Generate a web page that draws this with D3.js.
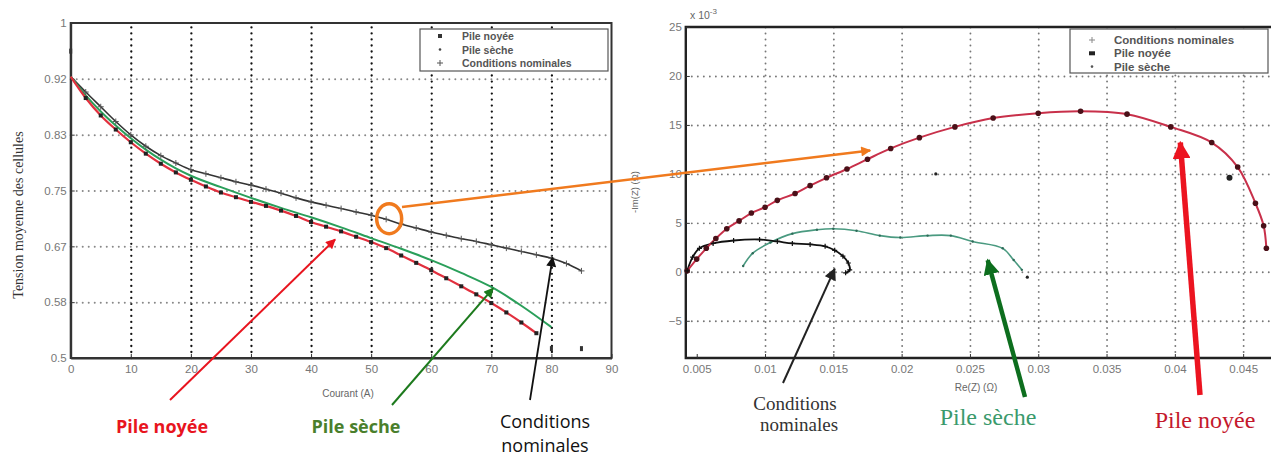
<!DOCTYPE html>
<html><head><meta charset="utf-8">
<script src="https://cdn.jsdelivr.net/npm/d3@7"></script>
<style>body{margin:0;background:#fff}svg{display:block}</style>
</head><body>
<svg id="c" width="1271" height="459"></svg>
<script>
// ===== Left chart data (Courant A / Tension V) =====
const currentTicks = [0,10,20,30,40,50,60,70,80,90];
const voltageTicks = [0.5,0.58333,0.66667,0.75,0.83333,0.91667,1];
const voltageTickLabels = ["0.5","0.58","0.67","0.75","0.83","0.92","1"];
const floodI = [0,2.5,5,7.5,10,12.5,15,17.5,20,22.5,25,27.5,30,32.5,35,37.5,40,42.5,45,47.5,50,52.5,55,57.5,60,62.5,65,67.5,70,72.5,75,77.5];
const floodV = [0.920,0.888,0.862,0.841,0.822,0.805,0.790,0.777,0.766,0.756,0.747,0.740,0.733,0.727,0.720,0.712,0.703,0.696,0.689,0.681,0.673,0.664,0.653,0.642,0.631,0.619,0.607,0.595,0.582,0.568,0.553,0.537];
const dryI = [0,2.5,5,7.5,10,12.5,15,17.5,20,25,30,35,40,45,50,55,60,65,70,75,80];
const dryV = [0.920,0.892,0.868,0.847,0.828,0.811,0.796,0.783,0.772,0.755,0.739,0.724,0.710,0.695,0.679,0.663,0.646,0.627,0.606,0.578,0.546];
const nomI = [0,2.5,5,7.5,10,12.5,15,17.5,20,22.5,25,27.5,30,32.5,35,37.5,40,42.5,45,47.5,50,52.5,55,57.5,60,62.5,65,67.5,70,72.5,75,77.5,80,82.5,85];
const nomV = [0.920,0.897,0.875,0.853,0.833,0.816,0.802,0.791,0.781,0.775,0.769,0.763,0.758,0.752,0.746,0.739,0.733,0.728,0.723,0.718,0.713,0.707,0.700,0.694,0.688,0.683,0.678,0.674,0.669,0.664,0.659,0.654,0.649,0.641,0.630];
const strayI = [0,80,85];
const strayV = [0.958,0.514,0.514];
const leftLegend = ["Pile noyée","Pile sèche","Conditions nominales"];

// ===== Right chart data (Re(Z) Ω / -Im(Z) ×1e-3 Ω) =====
const reTicks = [0.005,0.01,0.015,0.02,0.025,0.03,0.035,0.04,0.045];
const imTicks = [-5,0,5,10,15,20,25];
const floodRe = [0.0043,0.0050,0.0057,0.0064,0.0072,0.0081,0.0090,0.0100,0.0109,0.0122,0.0133,0.0145,0.0160,0.0175,0.0192,0.0213,0.0239,0.0267,0.0300,0.0331,0.0365,0.0397,0.0427,0.0446,0.0459,0.0465,0.0467];
const floodIm = [0.1,1.3,2.4,3.4,4.4,5.2,6.0,6.6,7.3,8.0,8.8,9.6,10.5,11.5,12.6,13.7,14.8,15.7,16.2,16.4,16.1,14.8,13.2,10.7,7.0,4.7,2.4];
const dryRe = [0.0084,0.0091,0.0104,0.0120,0.0138,0.0150,0.0167,0.0184,0.0199,0.0219,0.0236,0.0252,0.0274,0.0282,0.0288];
const dryIm = [0.6,1.9,3.0,3.9,4.3,4.4,4.2,3.7,3.5,3.7,3.7,3.1,2.4,1.2,0.2];
const nomRe = [0.0043,0.0047,0.0052,0.0062,0.0077,0.0096,0.0109,0.0120,0.0133,0.0144,0.0151,0.0157,0.0161,0.0162,0.0159];
const nomIm = [0.1,1.5,2.4,2.9,3.2,3.3,3.1,2.9,2.8,2.6,2.2,1.6,0.9,0.2,-0.1];
const strayRe = [0.0440,0.0225,0.0292];
const strayIm = [9.6,10.0,-0.55];
const rightLegend = ["Conditions nominales","Pile noyée","Pile sèche"];

// ===== drawing =====
const svg = d3.select("#c");
const zip = (a,b) => a.map((v,i)=>[v,b[i]]);
const defs = svg.append("defs");
function head(id, color, w, l){
  defs.append("marker").attr("id",id).attr("viewBox","0 0 10 10").attr("refX",9).attr("refY",5)
    .attr("markerUnits","userSpaceOnUse").attr("markerWidth",l).attr("markerHeight",w).attr("orient","auto")
    .append("path").attr("d","M0,0L10,5L0,10z").attr("fill",color);
}
head("hRed","#e8141e",10,12); head("hGreen","#1d7a1d",10,12); head("hBlack","#111",10,12);
head("hOrange","#f07a1e",10,13); head("hGreenB","#0d6e1e",16,16); head("hRedB","#ec1420",18,18); head("hBlackR","#222",12,13);

function dots(sel){ sel.attr("stroke-dasharray","0.01,6").attr("stroke-linecap","round"); }

// ---------- LEFT ----------
const xL = d3.scaleLinear().domain([0,90]).range([70.7,611.5]);
const yL = d3.scaleLinear().domain([0.5,1]).range([358,23]);
const L = svg.append("g");
// grid
const gv = L.append("g").attr("transform",`translate(0,${yL(0.5)})`)
  .call(d3.axisBottom(xL).tickValues(currentTicks.slice(1,-1)).tickSize(-(yL(0.5)-yL(1))).tickFormat(""));
gv.select(".domain").remove();
gv.selectAll("line").attr("stroke","#111").attr("stroke-width",2.3).call(dots);
const gh = L.append("g").attr("transform",`translate(${xL(0)},0)`)
  .call(d3.axisLeft(yL).tickValues(voltageTicks.slice(1,-1)).tickSize(-(xL(90)-xL(0))).tickFormat(""));
gh.select(".domain").remove();
gh.selectAll("line").attr("stroke","#888").attr("stroke-width",2).call(dots);
// frame
L.append("rect").attr("x",xL(0)).attr("y",yL(1)).attr("width",xL(90)-xL(0)).attr("height",yL(0.5)-yL(1))
  .attr("fill","none").attr("stroke","#333").attr("stroke-width",2);
// axes
const axB = L.append("g").attr("transform",`translate(0,${yL(0.5)})`)
  .call(d3.axisBottom(xL).tickValues(currentTicks).tickSizeInner(-4).tickSizeOuter(0).tickPadding(7));
const axLft = L.append("g").attr("transform",`translate(${xL(0)},0)`)
  .call(d3.axisLeft(yL).tickValues(voltageTicks).tickFormat((d,i)=>voltageTickLabels[i]).tickSizeInner(-4).tickSizeOuter(0).tickPadding(4));
[axB,axLft].forEach(a=>{a.select(".domain").attr("stroke","#333").attr("stroke-width",2);
  a.selectAll("line").attr("stroke","#333");
  a.selectAll("text").attr("font-family","Liberation Sans, Arial").attr("font-size",11.5).attr("fill","#777");});
L.append("text").attr("x",348).attr("y",397).attr("text-anchor","middle").attr("font-family","Liberation Sans, Arial")
  .attr("font-size",10).attr("fill","#666").text("Courant (A)");
L.append("text").attr("transform","translate(23,215) rotate(-90)").attr("text-anchor","middle")
  .attr("font-family","Liberation Serif, serif").attr("font-size",14).attr("fill","#333").text("Tension moyenne des cellules");
// lines
const lineL = d3.line().x(d=>xL(d[0])).y(d=>yL(d[1])).curve(d3.curveMonotoneX);
L.append("path").datum(zip(nomI,nomV)).attr("d",lineL).attr("fill","none").attr("stroke","#333").attr("stroke-width",1.6);
L.append("path").datum(zip(dryI,dryV)).attr("d",lineL).attr("fill","none").attr("stroke","#2a9f5a").attr("stroke-width",2);
L.append("path").datum(zip(floodI,floodV)).attr("d",lineL).attr("fill","none").attr("stroke","#e2303e").attr("stroke-width",2.2);
L.selectAll(".fm").data(zip(floodI,floodV).slice(1)).join("rect").attr("x",d=>xL(d[0])-2).attr("y",d=>yL(d[1])-2)
  .attr("width",4).attr("height",4).attr("fill","#222");
L.selectAll(".nm").data(zip(nomI,nomV).slice(1)).join("path")
  .attr("d",d=>`M${xL(d[0])-3},${yL(d[1])}h6M${xL(d[0])},${yL(d[1])-3}v6`).attr("stroke","#555").attr("stroke-width",1);
L.selectAll(".st").data(zip(strayI,strayV)).join("rect").attr("x",d=>xL(d[0])-1.5).attr("y",d=>yL(d[1])-2.5)
  .attr("width",3).attr("height",5).attr("fill","#333");
// legend
L.append("rect").attr("x",420).attr("y",29).attr("width",188).attr("height",42).attr("fill","#fff").attr("stroke","#555").attr("stroke-width",1.2);
leftLegend.forEach((t,i)=>{
  const y = 36 + i*13.5;
  L.append("text").attr("x",462).attr("y",y+4).attr("font-family","Liberation Sans, Arial").attr("font-weight","bold")
    .attr("font-size",10.5).attr("fill","#555").text(t);
  if(i===0) L.append("rect").attr("x",438).attr("y",y-2).attr("width",4).attr("height",4).attr("fill","#333");
  if(i===1) L.append("circle").attr("cx",440).attr("cy",y).attr("r",1.3).attr("fill","#444");
  if(i===2) L.append("path").attr("d",`M437,${y}h6M440,${y-3}v6`).attr("stroke","#555");
});

// ---------- RIGHT ----------
const xR = d3.scaleLinear().domain([0.0042,0.0475]).range([685.8,1277.3]);
const yR = d3.scaleLinear().domain([-8.8,25]).range([358,27]);
const R = svg.append("g");
const rv = R.append("g").attr("transform",`translate(0,${yR(-8.8)})`)
  .call(d3.axisBottom(xR).tickValues(reTicks.slice(1)).tickSize(-(yR(-8.8)-yR(25))).tickFormat(""));
rv.select(".domain").remove();
rv.selectAll("line").attr("stroke","#777").attr("stroke-width",1.9).call(dots);
const rh = R.append("g").attr("transform",`translate(${xR(0.0042)},0)`)
  .call(d3.axisLeft(yR).tickValues(imTicks.slice(0,-1)).tickSize(-(1271-xR(0.0042))).tickFormat(""));
rh.select(".domain").remove();
rh.selectAll("line").attr("stroke","#777").attr("stroke-width",1.9).call(dots);
R.append("path").attr("d",`M1271,${yR(25)}H${xR(0.0042)}V${yR(-8.8)}H1271`).attr("fill","none").attr("stroke","#222").attr("stroke-width",2.4);
const rb = R.append("g").attr("transform",`translate(0,${yR(-8.8)})`)
  .call(d3.axisBottom(xR).tickValues(reTicks).tickFormat(d3.format("~g")).tickSizeInner(-4).tickSizeOuter(0).tickPadding(7));
const rl = R.append("g").attr("transform",`translate(${xR(0.0042)},0)`)
  .call(d3.axisLeft(yR).tickValues(imTicks).tickSizeInner(-4).tickSizeOuter(0).tickPadding(4));
[rb,rl].forEach(a=>{a.select(".domain").remove(); a.selectAll("line").attr("stroke","#333");
  a.selectAll("text").attr("font-family","Liberation Sans, Arial").attr("font-size",11.5).attr("fill","#777");});
R.append("text").attr("x",690).attr("y",19).attr("font-family","Liberation Sans, Arial").attr("font-size",10.5).attr("fill","#666")
  .html('x 10<tspan dy="-5" font-size="8">-3</tspan>');
R.append("text").attr("x",976).attr("y",391).attr("text-anchor","middle").attr("font-family","Liberation Sans, Arial")
  .attr("font-size",10).attr("fill","#666").text("Re(Z) (Ω)");
R.append("text").attr("transform","translate(638,192) rotate(-90)").attr("text-anchor","middle")
  .attr("font-family","Liberation Sans, Arial").attr("font-size",9.5).attr("fill","#666").text("-Im(Z) (Ω)");
const lineR = d3.line().x(d=>xR(d[0])).y(d=>yR(d[1])).curve(d3.curveCatmullRom);
R.append("path").datum(zip(dryRe,dryIm)).attr("d",lineR).attr("fill","none").attr("stroke","#4a9a80").attr("stroke-width",1.6);
R.append("path").datum(zip(nomRe,nomIm)).attr("d",lineR).attr("fill","none").attr("stroke","#111").attr("stroke-width",1.8);
R.append("path").datum(zip(floodRe,floodIm)).attr("d",lineR).attr("fill","none").attr("stroke","#c8304a").attr("stroke-width",2);
R.selectAll(".rf").data(zip(floodRe,floodIm)).join("circle").attr("cx",d=>xR(d[0])).attr("cy",d=>yR(d[1])).attr("r",2.8).attr("fill","#4a1018");
R.selectAll(".rn").data(zip(nomRe,nomIm)).join("path")
  .attr("d",d=>`M${xR(d[0])-2.5},${yR(d[1])}h5M${xR(d[0])},${yR(d[1])-2.5}v5`).attr("stroke","#111").attr("stroke-width",1.2);
R.selectAll(".rd").data(zip(dryRe,dryIm)).join("circle").attr("cx",d=>xR(d[0])).attr("cy",d=>yR(d[1])).attr("r",1.2).attr("fill","#2e6a58");
R.selectAll(".rs").data(zip(strayRe,strayIm)).join("circle").attr("cx",d=>xR(d[0])).attr("cy",d=>yR(d[1])).attr("r",(d,i)=>i===0?3:1.6).attr("fill","#222");
R.append("circle").attr("cx",xR(floodRe[16])+0).attr("cy",yR(floodIm[16])).attr("r",0);
// legend
R.append("rect").attr("x",1070).attr("y",29).attr("width",198).attr("height",44).attr("fill","#fff").attr("stroke","#555").attr("stroke-width",1.2);
rightLegend.forEach((t,i)=>{
  const y = 40 + i*13.3;
  R.append("text").attr("x",1114).attr("y",y+4).attr("font-family","Liberation Sans, Arial").attr("font-weight","bold")
    .attr("font-size",11.5).attr("fill","#555").text(t);
  if(i===0) R.append("path").attr("d",`M1089,${y}h6M1092,${y-3}v6`).attr("stroke","#888");
  if(i===1) R.append("rect").attr("x",1089).attr("y",y-2).attr("width",6).attr("height",4).attr("fill","#222");
  if(i===2) R.append("circle").attr("cx",1092).attr("cy",y).attr("r",1.3).attr("fill","#555");
});

// ---------- Annotations ----------
const A = svg.append("g");
function arrow(x1,y1,x2,y2,color,w,mk){
  A.append("line").attr("x1",x1).attr("y1",y1).attr("x2",x2).attr("y2",y2).attr("stroke",color).attr("stroke-width",w).attr("marker-end",`url(#${mk})`);
}
// orange link
A.append("ellipse").attr("cx",xL(53)).attr("cy",yL(0.708)).attr("rx",12.5).attr("ry",15).attr("fill","none").attr("stroke","#f07a1e").attr("stroke-width",3.5);
arrow(402,207,xR(0.0177),yR(12.4),"#f07a1e",2.5,"hOrange");
// left arrows
arrow(170,400,xL(44),yL(0.677),"#e8141e",2,"hRed");
arrow(392,405,xL(70.3),yL(0.604),"#1d7a1d",2,"hGreen");
arrow(530,400,xL(80.2),yL(0.650),"#111",1.8,"hBlack");
// right arrows
arrow(783,383,xR(0.0151),yR(0.3),"#222",2,"hBlackR");
arrow(1025,397,xR(0.0263),yR(1.2),"#0d6e1e",4.5,"hGreenB");
arrow(1200,395,xR(0.0404),yR(13.2),"#ec1420",5.5,"hRedB");
// left labels
const sans = "Open Sans, Noto Sans, sans-serif", serif = "Liberation Serif, Times New Roman, serif";
A.append("text").attr("x",162).attr("y",433).attr("text-anchor","middle").attr("font-family",sans).attr("font-weight","bold").attr("font-size",18).attr("fill","#e8141e").text("Pile noyée");
A.append("text").attr("x",356).attr("y",433).attr("text-anchor","middle").attr("font-family",sans).attr("font-weight","bold").attr("font-size",18).attr("fill","#4a7f2c").text("Pile sèche");
A.append("text").attr("x",545).attr("y",428).attr("text-anchor","middle").attr("font-family",sans).attr("font-size",18).attr("fill","#111").text("Conditions");
A.append("text").attr("x",545).attr("y",452).attr("text-anchor","middle").attr("font-family",sans).attr("font-size",18).attr("fill","#111").text("nominales");
// right labels
A.append("text").attr("x",795).attr("y",410).attr("text-anchor","middle").attr("font-family",serif).attr("font-size",19).attr("fill","#333").text("Conditions");
A.append("text").attr("x",799).attr("y",431).attr("text-anchor","middle").attr("font-family",serif).attr("font-size",19).attr("fill","#333").text("nominales");
A.append("text").attr("x",988).attr("y",425).attr("text-anchor","middle").attr("font-family",serif).attr("font-size",24).attr("fill","#3a9a6c").text("Pile sèche");
A.append("text").attr("x",1205).attr("y",428).attr("text-anchor","middle").attr("font-family",serif).attr("font-size",24).attr("fill","#c4182c").text("Pile noyée");
</script>
</body></html>
